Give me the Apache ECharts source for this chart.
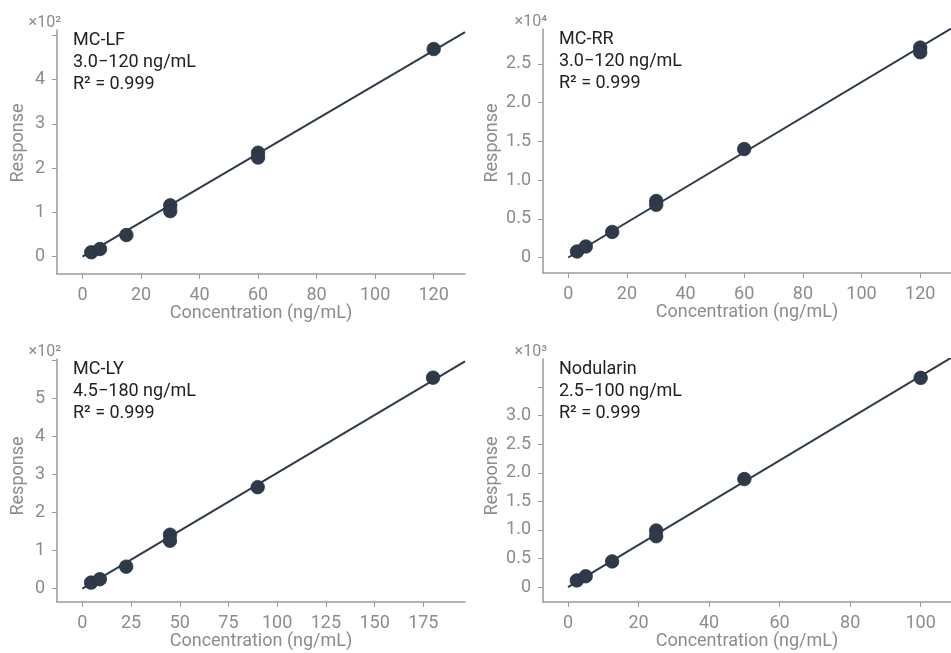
<!DOCTYPE html>
<html lang="en">

<head>
    <meta charset="UTF-8">
    <title>Calibration curves</title>
    <script src="https://cdn.jsdelivr.net/npm/echarts@6/dist/echarts.min.js"></script>
    <style>
        html, body { margin: 0; padding: 0; background: #fff; }
        #main { width: 951px; height: 653px; }
    </style>
</head>

<body>
    <div id="main"></div>
    <script>
        // concentration (ng/mL), response (raw counts)
        var lfConc = [3, 6, 15, 30, 30, 60, 60, 120];
        var lfResp = [10, 17.5, 49, 116, 103, 235, 224, 469];
        var lfFit = [[0, 0], [130.7, 507]];

        var rrConc = [3, 6, 15, 30, 30, 60, 120, 120];
        var rrResp = [780, 1420, 3300, 7300, 6800, 14000, 27100, 26500];
        var rrFit = [[0, 0], [130.5, 29550]];

        var lyConc = [4.5, 9, 22.5, 45, 45, 90, 180];
        var lyResp = [16, 25, 58, 142, 126, 267, 555];
        var lyFit = [[0, 0], [196.4, 598]];

        var nodConc = [2.5, 5, 12.5, 25, 25, 50, 100];
        var nodResp = [118, 190, 450, 990, 890, 1890, 3660];
        var nodFit = [[0, 0], [108.6, 4010]];

        var xTicks = [[0, 20, 40, 60, 80, 100, 120], [0, 20, 40, 60, 80, 100, 120],
                      [0, 25, 50, 75, 100, 125, 150, 175], [0, 20, 40, 60, 80, 100]];
        var yTicks = [[0, 100, 200, 300, 400, 500], [0, 5000, 10000, 15000, 20000, 25000],
                      [0, 100, 200, 300, 400, 500, 600], [0, 500, 1000, 1500, 2000, 2500, 3000, 3500]];
        var yLabels = [[0, 100, 200, 300, 400], [0, 5000, 10000, 15000, 20000, 25000],
                       [0, 100, 200, 300, 400, 500], [0, 500, 1000, 1500, 2000, 2500, 3000]];
        var yScale = [100, 10000, 100, 1000];
        var yExp = ['²', '⁴', '²', '³'];
        var yDecimals = [0, 1, 0, 1];

        var names = ['MC-LF', 'MC-RR', 'MC-LY', 'Nodularin'];
        var ranges = ['3.0−120 ng/mL', '3.0−120 ng/mL', '4.5−180 ng/mL', '2.5−100 ng/mL'];
        var r2 = ['0.999', '0.999', '0.999', '0.999'];

        var panels = [
            { conc: lfConc, resp: lfResp, fit: lfFit, xmin: -8.7, xmax: 130.7, ymin: -39, ymax: 512 },
            { conc: rrConc, resp: rrResp, fit: rrFit, xmin: -8.6, xmax: 130.5, ymin: -2000, ymax: 29500 },
            { conc: lyConc, resp: lyResp, fit: lyFit, xmin: -13, xmax: 196.4, ymin: -35, ymax: 604 },
            { conc: nodConc, resp: nodResp, fit: nodFit, xmin: -7.1, xmax: 108.6, ymin: -260, ymax: 3990 }
        ];

        var gridPos = [
            { left: 57, top: 30, width: 408, height: 244 },
            { left: 543, top: 29, width: 408, height: 244 },
            { left: 57, top: 359, width: 408, height: 243 },
            { left: 543, top: 359, width: 408, height: 243 }
        ];
        var yNamePos = [[18, 143], [492, 143], [18, 476], [492, 476]];

        var ink = '#2e3a4a';
        var grey = '#8c8c8c';
        var axisGrey = '#9a9a9a';
        var font = 'Roboto';

        var grids = [], xAxes = [], yAxes = [], series = [], graphics = [];

        panels.forEach(function (p, i) {
            var g = gridPos[i];
            grids.push({ left: g.left, top: g.top, width: g.width, height: g.height });

            xAxes.push({
                type: 'value', gridIndex: i, min: p.xmin, max: p.xmax,
                name: 'Concentration (ng/mL)', nameLocation: 'middle', nameGap: 30,
                nameTextStyle: { color: grey, fontSize: 18, fontFamily: font },
                axisLine: { show: true, onZero: false, lineStyle: { color: axisGrey, width: 1.5 } },
                axisTick: { show: true, length: 5, customValues: xTicks[i], lineStyle: { color: axisGrey } },
                axisLabel: { customValues: xTicks[i], color: grey, fontSize: 18, fontFamily: font, margin: 12 },
                splitLine: { show: false }
            });

            var sc = yScale[i], dec = yDecimals[i];
            yAxes.push({
                type: 'value', gridIndex: i, min: p.ymin, max: p.ymax,
                axisLine: { show: true, onZero: false, lineStyle: { color: axisGrey, width: 1.5 } },
                axisTick: { show: true, length: 5, customValues: yTicks[i], lineStyle: { color: axisGrey } },
                axisLabel: {
                    customValues: yLabels[i], color: grey, fontSize: 18, fontFamily: font, margin: 12,
                    formatter: function (v) { return v === 0 ? '0' : (v / sc).toFixed(dec); }
                },
                splitLine: { show: false }
            });

            series.push({
                type: 'line', xAxisIndex: i, yAxisIndex: i, data: p.fit,
                symbol: 'none', lineStyle: { color: ink, width: 2 }, z: 2, silent: true
            });
            series.push({
                type: 'scatter', xAxisIndex: i, yAxisIndex: i,
                data: p.conc.map(function (c, k) { return [c, p.resp[k]]; }),
                symbolSize: 13.5,
                itemStyle: { color: ink, opacity: 1, borderColor: '#263140', borderWidth: 0.8 }, z: 3
            });

            // ×10^n marker above the y axis
            graphics.push({
                type: 'text', x: g.left + 4, y: g.top - 7,
                style: { text: '×10' + yExp[i], fill: grey, font: '16px Roboto', align: 'right', verticalAlign: 'middle' }
            });
            // y axis title
            graphics.push({
                type: 'text', x: yNamePos[i][0], y: yNamePos[i][1], rotation: Math.PI / 2,
                style: { text: 'Response', fill: grey, font: '18px Roboto', align: 'center', verticalAlign: 'middle' }
            });
            // annotation
            graphics.push({
                type: 'text', x: g.left + 16, y: g.top - 1,
                style: {
                    text: names[i] + '\n' + ranges[i] + '\nR² = ' + r2[i],
                    fill: '#222', font: '18px Roboto', lineHeight: 22
                }
            });
        });

        var myChart = echarts.init(document.getElementById('main'));
        myChart.setOption({
            backgroundColor: '#fff',
            animation: false,
            grid: grids,
            xAxis: xAxes,
            yAxis: yAxes,
            series: series,
            graphic: graphics
        });
    </script>
</body>

</html>
